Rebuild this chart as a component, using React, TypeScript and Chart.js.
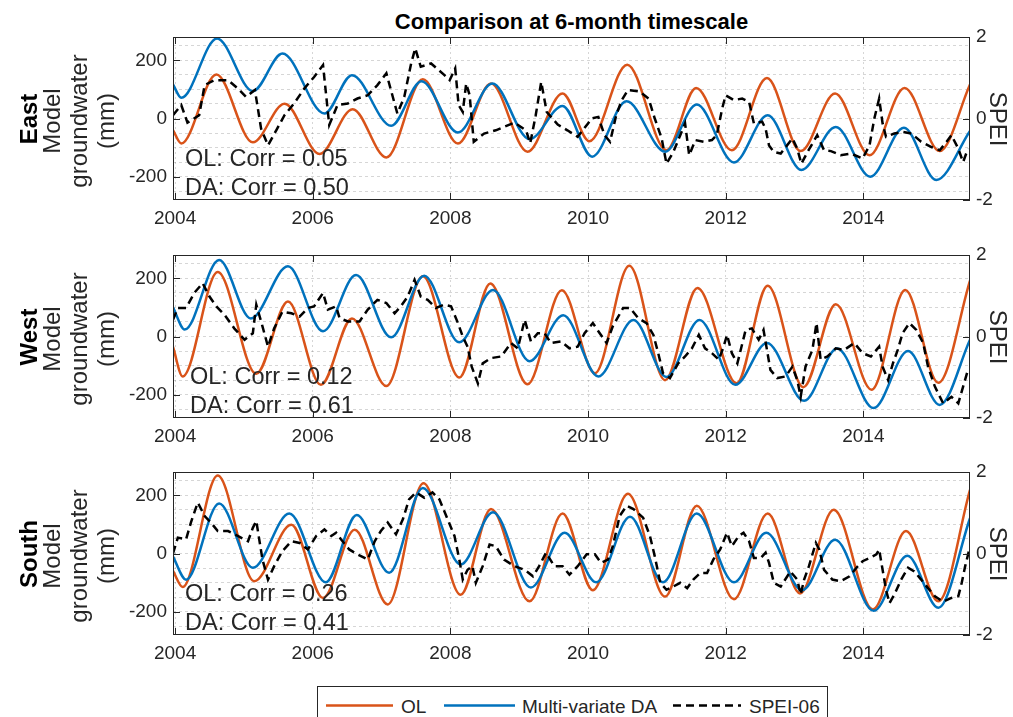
import React, { useEffect, useRef } from "react";
import { Chart, registerables } from "chart.js";
Chart.register(...registerables);

// ---------------- data ----------------
const X_TICKS = [2004, 2006, 2008, 2010, 2012, 2014];
const Y_TICKS = [-200, 0, 200];
const Y_GRID = [-250, -200, -150, -100, -50, 0, 50, 100, 150, 200, 250];
const Y2_TICKS = [-2, 0, 2];

const eastOLx = [2003.97, 2004.09, 2004.6, 2005.13, 2005.59, 2006.1, 2006.58, 2007.07, 2007.6, 2008.11, 2008.59, 2009.12, 2009.63, 2010.02, 2010.57, 2011.14, 2011.57, 2012.09, 2012.6, 2013.09, 2013.59, 2014.09, 2014.6, 2015.11, 2015.55];
const eastOLy = [-40, -86, 151, -82, 51, -122, 32, -134, 135, -86, 120, -114, 86, -78, 185, -109, 105, -109, 139, -112, 86, -126, 105, -112, 117];
const eastDAx = [2003.97, 2004.09, 2004.61, 2005.13, 2005.56, 2006.17, 2006.57, 2007.14, 2007.58, 2008.11, 2008.61, 2009.15, 2009.63, 2010.06, 2010.56, 2011.12, 2011.58, 2012.12, 2012.61, 2013.1, 2013.6, 2014.1, 2014.59, 2015.06, 2015.55];
const eastDAy = [117, 71, 275, 94, 223, 17, 149, -25, 128, -48, 120, -71, 43, -131, 59, -114, 48, -151, 11, -177, -29, -200, -32, -211, -43];
const eastSPx = [2003.97, 2004.09, 2004.18, 2004.35, 2004.43, 2004.57, 2004.77, 2004.91, 2005.03, 2005.16, 2005.25, 2005.35, 2005.47, 2005.59, 2005.73, 2005.88, 2006.02, 2006.15, 2006.24, 2006.36, 2006.51, 2006.65, 2006.8, 2006.94, 2007.07, 2007.23, 2007.33, 2007.43, 2007.49, 2007.57, 2007.72, 2007.91, 2007.99, 2008.07, 2008.12, 2008.18, 2008.23, 2008.28, 2008.34, 2008.49, 2008.66, 2008.93, 2009.1, 2009.16, 2009.24, 2009.32, 2009.4, 2009.56, 2009.7, 2009.85, 2010.0, 2010.05, 2010.15, 2010.24, 2010.32, 2010.41, 2010.49, 2010.58, 2010.75, 2010.88, 2010.97, 2011.07, 2011.14, 2011.24, 2011.34, 2011.41, 2011.47, 2011.56, 2011.68, 2011.8, 2011.87, 2011.95, 2012.0, 2012.12, 2012.24, 2012.34, 2012.41, 2012.53, 2012.58, 2012.63, 2012.7, 2012.8, 2012.97, 2013.04, 2013.1, 2013.19, 2013.33, 2013.43, 2013.53, 2013.67, 2013.82, 2013.99, 2014.09, 2014.16, 2014.23, 2014.28, 2014.33, 2014.45, 2014.57, 2014.7, 2014.84, 2014.99, 2015.11, 2015.21, 2015.28, 2015.38, 2015.45, 2015.52];
const eastSPy = [0.08, 0.33, -0.1, 0.08, 0.82, 0.94, 0.94, 0.74, 0.53, 0.7, -0.25, -0.66, -0.29, 0.08, 0.37, 0.74, 1.02, 1.31, -0.16, 0.33, 0.37, 0.49, 0.57, 0.82, 1.11, 0.12, 0.53, 1.35, 1.72, 1.27, 1.35, 1.07, 0.94, 1.23, 0.33, 0.16, 0.86, 0.57, -0.57, -0.37, -0.29, -0.1, -0.29, -0.61, 0.08, 0.9, 0.16, -0.15, -0.29, -0.45, -0.12, 0.0, 0.04, -0.41, -0.57, 0.08, 0.45, 0.7, 0.66, 0.49, 0.0, -0.49, -1.11, -0.82, -0.41, -0.12, -0.9, -0.53, -0.57, -0.53, -0.41, 0.25, 0.57, 0.45, 0.49, 0.41, -0.12, -0.08, -0.25, -0.66, -0.82, -0.86, -0.49, -0.74, -1.11, -0.82, -0.41, -0.78, -0.8, -0.9, -0.86, -0.98, -0.66, 0.0, 0.49, -0.12, -0.45, -0.37, -0.33, -0.37, -0.57, -0.7, -0.78, -0.57, -0.41, -0.74, -1.07, -0.74];

const westOLx = [2003.97, 2004.11, 2004.62, 2005.18, 2005.64, 2006.12, 2006.57, 2007.07, 2007.6, 2008.13, 2008.58, 2009.12, 2009.62, 2010.1, 2010.6, 2011.12, 2011.59, 2012.16, 2012.61, 2013.13, 2013.6, 2014.12, 2014.61, 2015.09, 2015.55];
const westOLy = [-36, -137, 222, -128, 120, -166, 62, -170, 207, -141, 182, -164, 159, -126, 243, -150, 167, -161, 174, -174, 111, -183, 160, -159, 192];
const westDAx = [2003.97, 2004.14, 2004.64, 2005.1, 2005.64, 2006.15, 2006.63, 2007.14, 2007.62, 2008.13, 2008.62, 2009.15, 2009.64, 2010.15, 2010.66, 2011.14, 2011.62, 2012.14, 2012.6, 2013.14, 2013.62, 2014.15, 2014.65, 2015.11, 2015.55];
const westDAy = [100, 24, 263, 62, 241, 18, 211, -3, 209, -20, 160, -85, 73, -137, 57, -139, 57, -166, -22, -221, -41, -246, -50, -235, -11];
const westSPx = [2003.97, 2004.04, 2004.16, 2004.28, 2004.4, 2004.5, 2004.6, 2004.72, 2004.86, 2005.01, 2005.13, 2005.18, 2005.27, 2005.35, 2005.44, 2005.56, 2005.69, 2005.81, 2005.93, 2006.02, 2006.15, 2006.22, 2006.34, 2006.39, 2006.51, 2006.68, 2006.8, 2006.94, 2007.07, 2007.19, 2007.28, 2007.38, 2007.48, 2007.57, 2007.67, 2007.79, 2007.91, 2008.01, 2008.11, 2008.18, 2008.25, 2008.31, 2008.4, 2008.47, 2008.59, 2008.74, 2008.88, 2008.98, 2009.08, 2009.17, 2009.27, 2009.37, 2009.46, 2009.61, 2009.73, 2009.85, 2009.95, 2010.07, 2010.17, 2010.27, 2010.36, 2010.51, 2010.61, 2010.73, 2010.85, 2010.95, 2011.02, 2011.09, 2011.19, 2011.31, 2011.41, 2011.51, 2011.61, 2011.7, 2011.8, 2011.9, 2011.97, 2012.02, 2012.09, 2012.17, 2012.29, 2012.38, 2012.48, 2012.55, 2012.6, 2012.65, 2012.75, 2012.87, 2012.97, 2013.04, 2013.09, 2013.16, 2013.26, 2013.32, 2013.38, 2013.48, 2013.6, 2013.72, 2013.87, 2013.99, 2014.11, 2014.23, 2014.28, 2014.36, 2014.43, 2014.5, 2014.57, 2014.67, 2014.77, 2014.87, 2014.94, 2015.04, 2015.16, 2015.28, 2015.38, 2015.45, 2015.52];
const westSPy = [0.41, 0.7, 0.7, 1.07, 1.31, 0.98, 0.74, 0.53, 0.2, -0.08, 0.08, 0.78, 0.25, -0.25, 0.2, 0.61, 0.57, 0.49, 0.7, 0.74, 1.07, 0.66, 0.74, 0.45, 0.37, 0.37, 0.66, 0.9, 0.82, 0.57, 0.74, 0.98, 1.39, 0.98, 0.9, 0.7, 0.78, 0.74, 0.33, 0.0, -0.25, -0.74, -1.15, -0.66, -0.53, -0.49, -0.16, -0.29, 0.41, -0.12, 0.08, 0.08, -0.16, -0.12, -0.29, -0.25, 0.08, 0.33, 0.08, -0.16, 0.25, 0.7, 0.7, 0.45, 0.33, 0.04, -0.41, -0.9, -1.02, -0.66, -0.49, -0.29, 0.04, -0.29, -0.41, -0.57, -0.25, 0.04, -0.41, -0.66, 0.16, 0.2, -0.08, 0.16, -0.33, -0.82, -1.02, -0.98, -0.74, -1.07, -1.48, -0.74, -0.33, 0.33, -0.57, -0.49, -0.29, -0.33, -0.16, -0.41, -0.49, -0.25, -0.74, -1.07, -0.66, -0.33, 0.08, 0.33, 0.16, -0.16, -0.74, -1.23, -1.64, -1.48, -1.64, -1.23, -0.82];

const southOLx = [2003.97, 2004.11, 2004.62, 2005.15, 2005.69, 2006.15, 2006.61, 2007.09, 2007.61, 2008.15, 2008.59, 2009.15, 2009.63, 2010.07, 2010.58, 2011.12, 2011.58, 2012.12, 2012.61, 2013.08, 2013.57, 2014.14, 2014.62, 2015.09, 2015.55];
const southOLy = [-60, -115, 268, -95, 99, -153, 82, -175, 241, -142, 153, -164, 137, -126, 205, -148, 164, -157, 137, -137, 150, -192, 77, -164, 219];
const southDAx = [2003.97, 2004.16, 2004.64, 2005.13, 2005.66, 2006.19, 2006.64, 2007.11, 2007.6, 2008.15, 2008.62, 2009.17, 2009.66, 2010.12, 2010.61, 2011.09, 2011.58, 2012.12, 2012.59, 2013.11, 2013.59, 2014.15, 2014.64, 2015.09, 2015.55];
const southDAy = [-11, -90, 172, -49, 137, -99, 132, -66, 225, -38, 142, -117, 71, -99, 126, -99, 137, -99, 71, -126, 47, -197, -8, -186, 121];
const southSPx = [2003.97, 2004.04, 2004.16, 2004.23, 2004.33, 2004.43, 2004.52, 2004.62, 2004.77, 2004.91, 2005.06, 2005.13, 2005.18, 2005.27, 2005.35, 2005.44, 2005.56, 2005.69, 2005.81, 2005.93, 2006.05, 2006.17, 2006.27, 2006.34, 2006.41, 2006.53, 2006.65, 2006.8, 2006.9, 2006.99, 2007.09, 2007.21, 2007.31, 2007.4, 2007.5, 2007.62, 2007.74, 2007.84, 2007.96, 2008.06, 2008.13, 2008.18, 2008.25, 2008.32, 2008.37, 2008.47, 2008.57, 2008.66, 2008.78, 2008.93, 2009.08, 2009.2, 2009.29, 2009.39, 2009.51, 2009.63, 2009.73, 2009.85, 2009.98, 2010.1, 2010.19, 2010.29, 2010.36, 2010.46, 2010.56, 2010.66, 2010.8, 2010.9, 2010.97, 2011.05, 2011.14, 2011.24, 2011.34, 2011.44, 2011.53, 2011.63, 2011.73, 2011.82, 2011.92, 2012.02, 2012.09, 2012.19, 2012.26, 2012.34, 2012.41, 2012.51, 2012.58, 2012.63, 2012.7, 2012.8, 2012.94, 2013.04, 2013.09, 2013.14, 2013.21, 2013.31, 2013.36, 2013.43, 2013.55, 2013.67, 2013.8, 2013.9, 2013.99, 2014.09, 2014.19, 2014.23, 2014.28, 2014.33, 2014.38, 2014.45, 2014.55, 2014.65, 2014.74, 2014.84, 2014.94, 2015.04, 2015.16, 2015.28, 2015.38, 2015.43, 2015.48, 2015.54];
const southSPy = [0.0, 0.39, 0.35, 0.76, 1.25, 0.92, 0.76, 0.55, 0.55, 0.43, 0.3, 0.63, 0.8, -0.15, -0.64, -0.31, 0.06, 0.3, 0.26, 0.1, 0.43, 0.59, 0.43, 0.51, 0.35, 0.1, -0.02, -0.15, 0.3, 0.55, 0.76, 0.47, 0.84, 1.33, 1.5, 1.37, 1.5, 1.33, 0.84, 0.43, -0.15, -0.64, -0.4, -0.31, -0.72, -0.31, 0.22, 0.18, -0.15, -0.31, -0.4, -0.56, -0.31, 0.02, -0.31, -0.31, -0.52, -0.31, -0.02, -0.02, -0.23, -0.15, 0.18, 0.92, 1.17, 1.09, 0.88, 0.43, -0.07, -0.72, -0.89, -0.81, -0.72, -0.85, -0.64, -0.48, -0.48, -0.15, 0.1, 0.51, 0.18, 0.43, 0.51, 0.3, -0.11, -0.11, 0.02, -0.23, -0.72, -0.81, -0.44, -0.64, -1.01, -0.64, -0.31, 0.26, 0.1, -0.4, -0.64, -0.68, -0.56, -0.35, -0.19, -0.11, -0.02, 0.1, -0.4, -0.89, -1.22, -1.01, -0.64, -0.35, -0.44, -0.64, -0.85, -1.05, -1.18, -1.09, -1.05, -0.72, -0.31, 0.1];

const regionNames = ["East", "West", "South"];
const olCorr = ["0.05", "0.12", "0.26"];
const daCorr = ["0.50", "0.61", "0.41"];

// ---------------- layout / style ----------------
const FONT = '"Liberation Sans", Arial, Helvetica, sans-serif';
const AXIS_COLOR = "#262626";
const GRID_COLOR = "rgba(0,0,0,0.16)";
const OL_COLOR = "#D95319";
const DA_COLOR = "#0072BD";
const SPEI_COLOR = "#000000";
const W = 1013;
const PLOT_LEFT = 173;
const PLOT_RIGHT = 970;
const PLOT_H = 163;
const PAD_TOP = 20;
const XAXIS_H = 38;
const X_MIN = 2003.97;
const X_MAX = 2015.55;
const PLOT_TOPS = [37, 255, 472];
const ANN_LEFT = [185, 190, 185];

const pts = (xs: number[], ys: number[]) => xs.map((x, i) => ({ x, y: ys[i] }));

const framePlugin = {
  id: "frame",
  afterDatasetsDraw(chart: any) {
    const { ctx, chartArea, scales } = chart;
    const { left, right, top, bottom } = chartArea;
    const L = 7;
    ctx.save();
    ctx.strokeStyle = AXIS_COLOR;
    ctx.lineWidth = 1;
    ctx.beginPath();
    X_TICKS.forEach((v) => {
      const px = Math.round(scales.x.getPixelForValue(v)) + 0.5;
      ctx.moveTo(px, bottom);
      ctx.lineTo(px, bottom - L);
      ctx.moveTo(px, top);
      ctx.lineTo(px, top + L);
    });
    Y_TICKS.forEach((v) => {
      const py = Math.round(scales.y.getPixelForValue(v)) + 0.5;
      ctx.moveTo(left, py);
      ctx.lineTo(left + L, py);
    });
    Y2_TICKS.forEach((v) => {
      const py = Math.round(scales.y2.getPixelForValue(v)) + 0.5;
      ctx.moveTo(right, py);
      ctx.lineTo(right - L, py);
    });
    ctx.stroke();
    ctx.strokeRect(left + 0.5, top + 0.5, right - left - 1, bottom - top - 1);
    ctx.restore();
  },
};

type PanelProps = {
  idx: number;
  olx: number[]; oly: number[];
  dax: number[]; day: number[];
  spx: number[]; spy: number[];
};

function Panel({ idx, olx, oly, dax, day, spx, spy }: PanelProps) {
  const ref = useRef<HTMLCanvasElement | null>(null);
  useEffect(() => {
    if (!ref.current) return;
    const tickFont = { family: FONT, size: 19 };
    const chart = new Chart(ref.current, {
      type: "line",
      data: {
        datasets: [
          { label: "SPEI-06", data: pts(spx, spy), yAxisID: "y2", borderColor: SPEI_COLOR, borderWidth: 2.5, borderDash: [8, 5], pointRadius: 0, tension: 0, order: 0 },
          { label: "Multi-variate DA", data: pts(dax, day), yAxisID: "y", borderColor: DA_COLOR, borderWidth: 2.5, pointRadius: 0, cubicInterpolationMode: "monotone", order: 1 },
          { label: "OL", data: pts(olx, oly), yAxisID: "y", borderColor: OL_COLOR, borderWidth: 2.5, pointRadius: 0, cubicInterpolationMode: "monotone", order: 2 },
        ],
      } as any,
      options: {
        animation: false,
        responsive: false,
        maintainAspectRatio: false,
        events: [],
        layout: { padding: { top: PAD_TOP, left: 0, right: 0, bottom: 0 } },
        plugins: { legend: { display: false }, tooltip: { enabled: false }, title: { display: false } },
        scales: {
          x: {
            type: "linear",
            min: X_MIN,
            max: X_MAX,
            afterBuildTicks: (s: any) => { s.ticks = X_TICKS.map((v) => ({ value: v })); },
            afterFit: (s: any) => { s.height = XAXIS_H; },
            ticks: { callback: (v: any) => String(v), font: tickFont, color: AXIS_COLOR, padding: 7, autoSkip: false, maxRotation: 0, minRotation: 0 },
            grid: { color: GRID_COLOR, lineWidth: 1, drawTicks: false },
            border: { display: false, dash: [2, 3] },
          },
          y: {
            position: "left",
            min: -280,
            max: 280,
            afterBuildTicks: (s: any) => { s.ticks = Y_GRID.map((v) => ({ value: v })); },
            afterFit: (s: any) => { s.width = PLOT_LEFT; },
            ticks: { callback: (v: any) => (Y_TICKS.includes(v) ? String(v) : ""), font: tickFont, color: AXIS_COLOR, padding: 6, autoSkip: false },
            grid: { color: GRID_COLOR, lineWidth: 1, drawTicks: false },
            border: { display: false, dash: [3, 3] },
          },
          y2: {
            position: "right",
            min: -2,
            max: 2,
            afterBuildTicks: (s: any) => { s.ticks = Y2_TICKS.map((v) => ({ value: v })); },
            afterFit: (s: any) => { s.width = W - PLOT_RIGHT; },
            ticks: { callback: (v: any) => String(v), font: tickFont, color: AXIS_COLOR, padding: 6, autoSkip: false },
            grid: { drawOnChartArea: false, drawTicks: false },
            border: { display: false },
          },
        },
      } as any,
      plugins: [framePlugin],
    });
    return () => chart.destroy();
  }, []);
  const top = PLOT_TOPS[idx] - PAD_TOP;
  const h = PAD_TOP + PLOT_H + XAXIS_H;
  return (
    <canvas
      ref={ref}
      width={W}
      height={h}
      style={{ position: "absolute", left: 0, top, width: W, height: h }}
    />
  );
}

function PanelText({ idx }: { idx: number }) {
  const pTop = PLOT_TOPS[idx];
  const mid = pTop + PLOT_H / 2;
  const common: React.CSSProperties = { position: "absolute", whiteSpace: "nowrap", fontFamily: FONT };
  return (
    <>
      <div style={{ ...common, left: 28, top: mid, transform: "translate(-50%,-50%) rotate(-90deg)", fontSize: 24, fontWeight: "bold", lineHeight: "27px", color: "#000" }}>
        {regionNames[idx]}
      </div>
      <div style={{ ...common, left: 78, top: mid + 2, transform: "translate(-50%,-50%) rotate(-90deg)", fontSize: 24, lineHeight: "27px", textAlign: "center", color: AXIS_COLOR }}>
        Model<br />groundwater<br />(mm)
      </div>
      <div style={{ ...common, left: 998, top: mid, transform: "translate(-50%,-50%) rotate(90deg)", fontSize: 24, lineHeight: "27px", color: AXIS_COLOR }}>
        SPEI
      </div>
      <div style={{ ...common, left: ANN_LEFT[idx], top: pTop + 122, transform: "translateY(-50%)", fontSize: 23.5, lineHeight: "23.5px", color: AXIS_COLOR }}>
        {"OL: Corr = " + olCorr[idx]}
      </div>
      <div style={{ ...common, left: ANN_LEFT[idx], top: pTop + 151, transform: "translateY(-50%)", fontSize: 23.5, lineHeight: "23.5px", color: AXIS_COLOR }}>
        {"DA: Corr = " + daCorr[idx]}
      </div>
    </>
  );
}

function Legend() {
  const txt: React.CSSProperties = { position: "absolute", top: 19, transform: "translateY(-50%)", fontFamily: FONT, fontSize: 19, lineHeight: "19px", color: AXIS_COLOR, whiteSpace: "nowrap" };
  return (
    <div style={{ position: "absolute", left: 317, top: 686, width: 511, height: 40, border: `1px solid ${AXIS_COLOR}`, boxSizing: "border-box", background: "#fff" }}>
      <svg width={511} height={40} style={{ position: "absolute", left: 0, top: 0 }}>
        <line x1={8} y1={18.5} x2={75} y2={18.5} stroke={OL_COLOR} strokeWidth={2.5} />
        <line x1={126} y1={18.5} x2={197} y2={18.5} stroke={DA_COLOR} strokeWidth={2.5} />
        <line x1={355} y1={18.5} x2={423} y2={18.5} stroke={SPEI_COLOR} strokeWidth={2.5} strokeDasharray="8 5" />
      </svg>
      <div style={{ ...txt, left: 83 }}>OL</div>
      <div style={{ ...txt, left: 204 }}>Multi-variate DA</div>
      <div style={{ ...txt, left: 431 }}>SPEI-06</div>
    </div>
  );
}

export default function App() {
  return (
    <div style={{ position: "absolute", left: 0, top: 0, width: W, height: 717, overflow: "hidden", background: "#fff" }}>
      <div style={{ position: "absolute", left: (PLOT_LEFT + PLOT_RIGHT) / 2, top: 22, transform: "translate(-50%,-50%)", fontFamily: FONT, fontWeight: "bold", fontSize: 22, lineHeight: "22px", whiteSpace: "nowrap", color: "#000" }}>
        Comparison at 6-month timescale
      </div>
      <Panel idx={0} olx={eastOLx} oly={eastOLy} dax={eastDAx} day={eastDAy} spx={eastSPx} spy={eastSPy} />
      <Panel idx={1} olx={westOLx} oly={westOLy} dax={westDAx} day={westDAy} spx={westSPx} spy={westSPy} />
      <Panel idx={2} olx={southOLx} oly={southOLy} dax={southDAx} day={southDAy} spx={southSPx} spy={southSPy} />
      <PanelText idx={0} />
      <PanelText idx={1} />
      <PanelText idx={2} />
      <Legend />
    </div>
  );
}
